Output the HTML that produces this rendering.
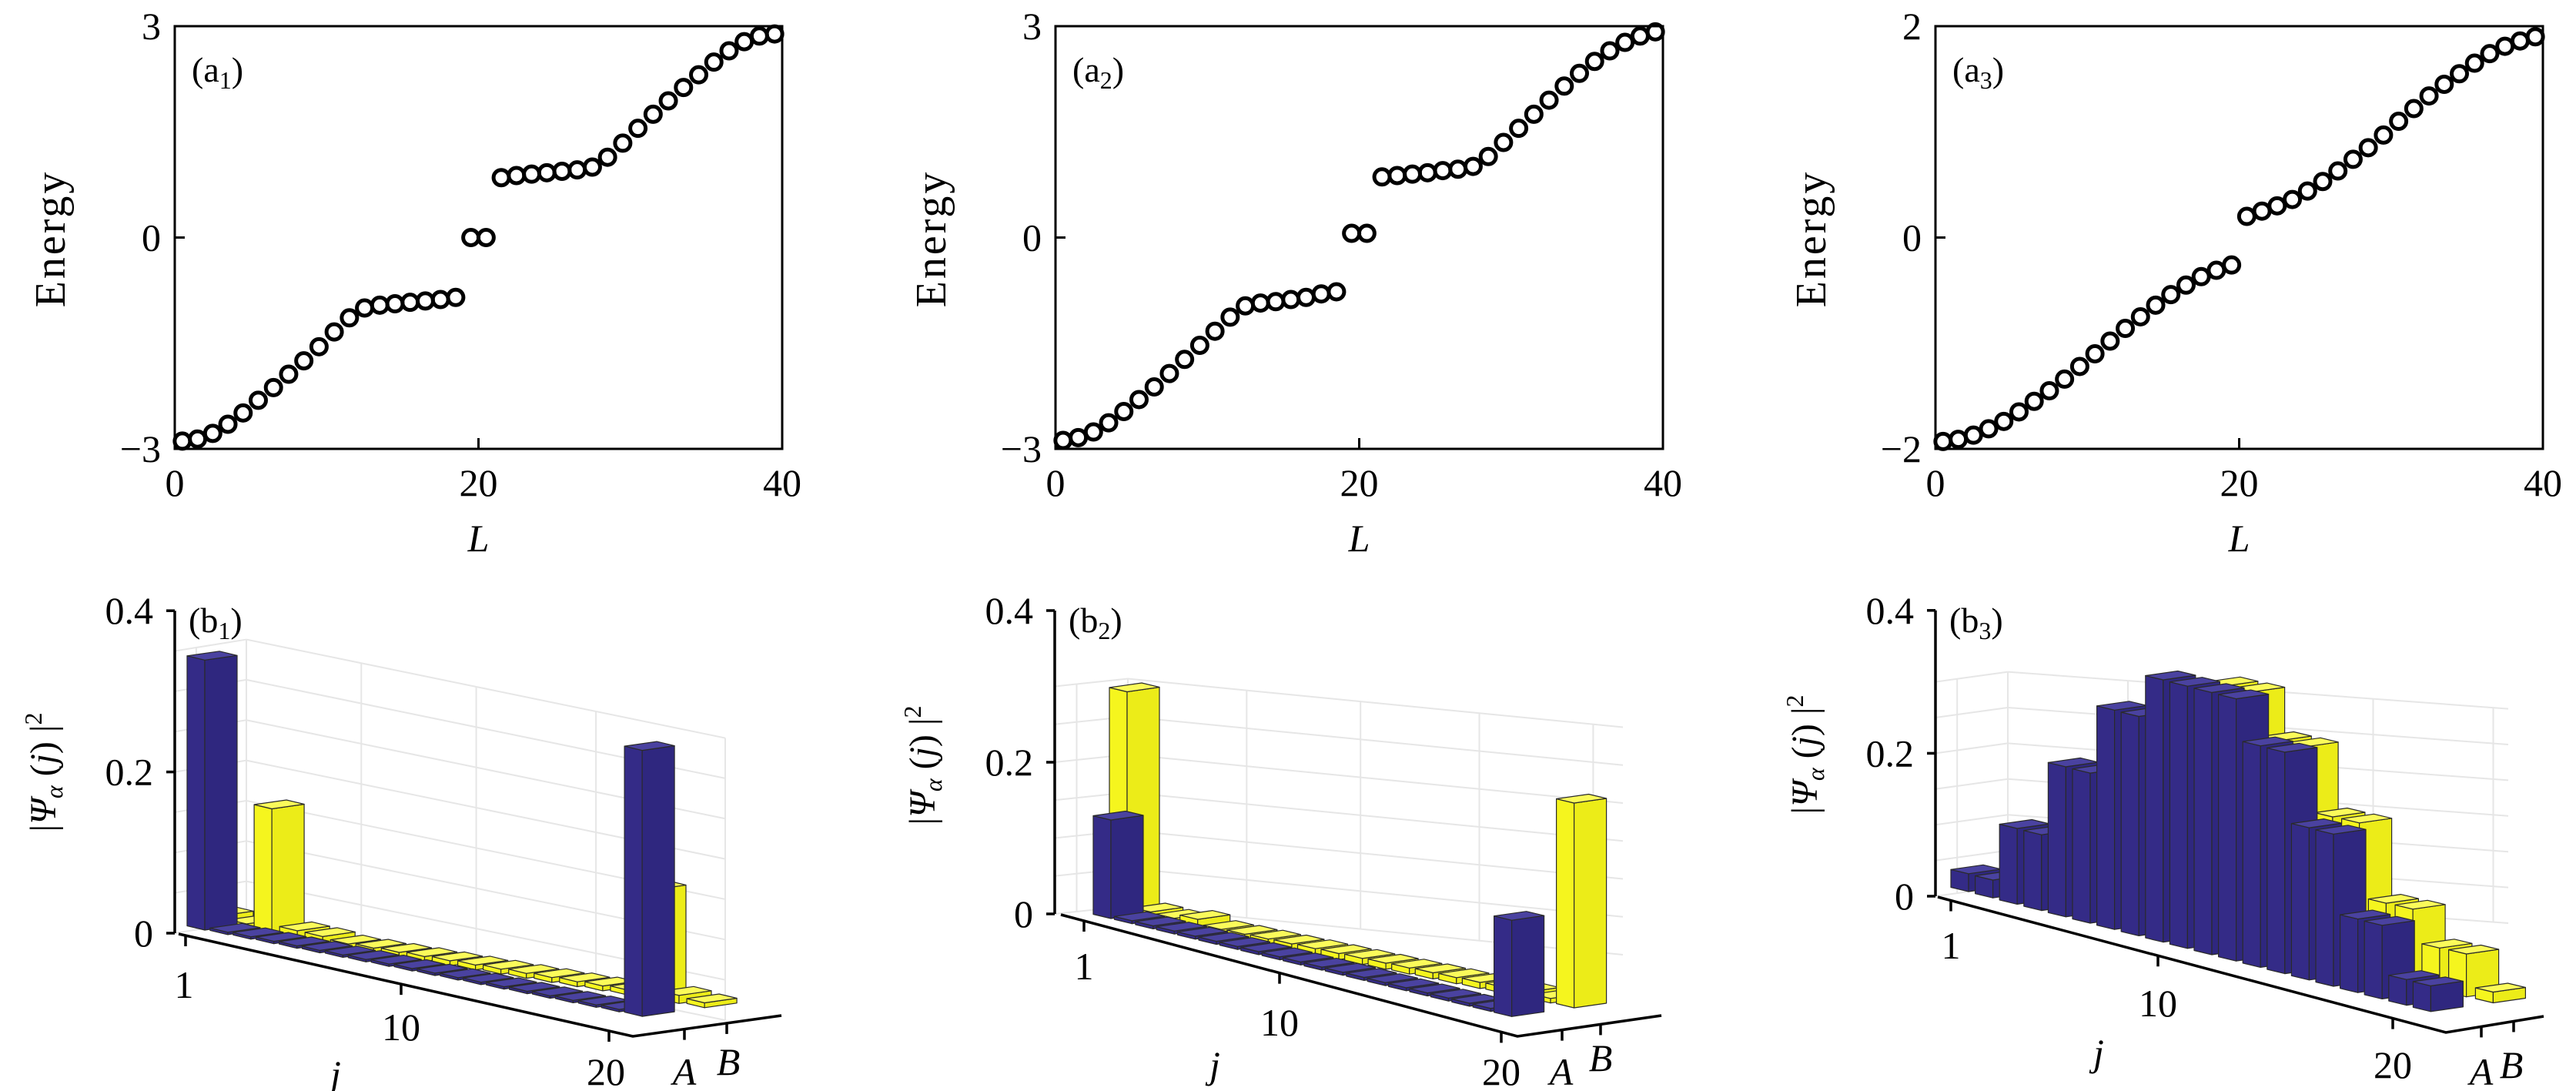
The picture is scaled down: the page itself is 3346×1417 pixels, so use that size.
<!DOCTYPE html>
<html><head><meta charset="utf-8"><style>
html,body{margin:0;padding:0;background:#fff}
svg{display:block}
text{font-family:"Liberation Serif",serif;fill:#000}
</style></head><body>
<svg id="fig" width="3346" height="1417" viewBox="0 0 3346 1417" xmlns="http://www.w3.org/2000/svg"></svg>
<script>
// ---- Data: energy spectra (L = index + 0.5) ----
const energyA1 = [-2.89,-2.86,-2.78,-2.65,-2.49,-2.31,-2.13,-1.94,-1.75,-1.55,-1.34,-1.14,-1.0,-0.96,-0.94,-0.92,-0.9,-0.88,-0.85,0,0,0.85,0.88,0.9,0.92,0.94,0.96,1.0,1.14,1.34,1.55,1.75,1.94,2.13,2.31,2.49,2.65,2.78,2.86,2.89];
const energyA2 = [-2.88,-2.84,-2.76,-2.63,-2.47,-2.3,-2.12,-1.93,-1.73,-1.53,-1.33,-1.13,-0.97,-0.93,-0.91,-0.88,-0.85,-0.8,-0.77,0.06,0.06,0.86,0.88,0.9,0.92,0.95,0.97,1.01,1.15,1.35,1.55,1.75,1.95,2.15,2.33,2.5,2.65,2.77,2.86,2.92];
const energyA3 = [-1.93,-1.91,-1.87,-1.81,-1.74,-1.65,-1.55,-1.45,-1.34,-1.22,-1.1,-0.98,-0.86,-0.75,-0.64,-0.54,-0.45,-0.37,-0.31,-0.26,0.2,0.25,0.3,0.36,0.44,0.53,0.63,0.74,0.85,0.97,1.1,1.22,1.34,1.45,1.55,1.65,1.74,1.81,1.86,1.9];
const xTicksTop = [0,20,40];
const yTicksA12 = [-3,0,3];
const yTicksA3 = [-2,0,2];
// ---- Data: |Psi|^2 on sublattices A (blue) and B (yellow), j = 1..20 ----
const jSites = [1,2,3,4,5,6,7,8,9,10,11,12,13,14,15,16,17,18,19,20];
const b1A = [0.335,0.003,0.003,0.003,0.003,0.003,0.003,0.003,0.003,0.003,0.003,0.003,0.003,0.003,0.003,0.003,0.003,0.003,0.003,0.33];
const b1B = [0.015,0.01,0.158,0.012,0.01,0.006,0.006,0.006,0.006,0.006,0.006,0.006,0.006,0.006,0.006,0.006,0.006,0.136,0.01,0.006];
const b2A = [0.13,0.004,0.004,0.004,0.004,0.004,0.004,0.004,0.004,0.004,0.004,0.004,0.004,0.004,0.004,0.004,0.004,0.004,0.004,0.127];
const b2B = [0.296,0.012,0.01,0.015,0.008,0.008,0.008,0.008,0.008,0.008,0.008,0.008,0.008,0.008,0.008,0.008,0.008,0.008,0.006,0.27];
const b3A = [0.025,0.025,0.106,0.106,0.21,0.21,0.307,0.307,0.367,0.367,0.367,0.367,0.31,0.31,0.213,0.213,0.103,0.103,0.036,0.036];
const b3B = [0.01,0.01,0.03,0.05,0.1,0.15,0.2,0.26,0.31,0.36,0.36,0.3,0.3,0.21,0.21,0.106,0.106,0.06,0.06,0.015];
const zTicks = [0,0.2,0.4];
const zTickLabels = ["0","0.2","0.4"];

const NS = "http://www.w3.org/2000/svg";
const svg = document.getElementById('fig');
function mk(tag, attrs, parent){
  const e = document.createElementNS(NS, tag);
  for (const k in attrs) e.setAttribute(k, attrs[k]);
  (parent||svg).appendChild(e);
  return e;
}
function txt(s, x, y, size, parent, anchor, italic){
  const t = mk('text', {x:x, y:y, 'font-size':size, 'text-anchor':anchor||'middle'}, parent);
  if (italic) t.setAttribute('font-style','italic');
  t.textContent = s;
  return t;
}

// ---------------- Top panels ----------------
function energyPanel(name, left, energies, yTicks, yMin, yMax, idx){
  const g = mk('g', {});
  
  
  const top = 34, bottom = 583, right = left + 789;
  const xs = v => left + (v - 0) / 40 * (right - left);
  const ys = v => bottom - (v - yMin) / (yMax - yMin) * (bottom - top);
  const frame = mk('rect', {x:left, y:top, width:right-left, height:bottom-top, fill:'none', stroke:'#000', 'stroke-width':3}, g);
  
  
  const ty = mk('line', {x1:left, x2:left+13, y1:ys(0), y2:ys(0), stroke:'#000', 'stroke-width':3}, g);
  
  
  const tx = mk('line', {x1:xs(20), x2:xs(20), y1:bottom, y2:bottom-14, stroke:'#000', 'stroke-width':3}, g);
  
  
  yTicks.forEach(v => {
    const lab = (v < 0 ? '\u2212' + Math.abs(v) : String(v));
    const t = txt(lab, left - 18, ys(v) + 17, 50, g, 'end');
    
    
  });
  xTicksTop.forEach(v => {
    const t = txt(String(v), xs(v), 644, 50, g, 'middle');
    
    
  });
  const xl = txt('L', xs(20), 716, 50, g, 'middle', true);
  
  
  const yl = txt('Energy', 0, 0, 56, g, 'middle');
  yl.setAttribute('letter-spacing', '3');
  yl.setAttribute('transform', 'translate(' + (left - 143) + ',310) rotate(-90)');
  
  
  const pl = mk('text', {x:left+22, y:106, 'font-size':46}, g);
  
  
  pl.innerHTML = '(a<tspan font-size="32" dy="9">' + idx + '</tspan><tspan dy="-9">)</tspan>';
  energies.forEach((e, i) => {
    const c = mk('circle', {cx:xs(i + 0.5), cy:ys(e), r:10, fill:'none', stroke:'#000', 'stroke-width':5}, g);
    
    
  });
}
energyPanel('panel-a1', 227, energyA1, yTicksA12, -3, 3, 1);
energyPanel('panel-a2', 1371, energyA2, yTicksA12, -3, 3, 2);
energyPanel('panel-a3', 2514, energyA3, yTicksA3, -2, 2, 3);

// ---------------- Bottom 3D bar panels ----------------
const VJ = [23, 5.5], VA = [42, -6];
function pts(arr){ return arr.map(p => p[0].toFixed(1) + ',' + p[1].toFixed(1)).join(' '); }
function drawBar(g, lx, ly, h, color, name){
  const P0=[lx,ly], P1=[lx+VJ[0],ly+VJ[1]], P2=[lx+VJ[0]+VA[0],ly+VJ[1]+VA[1]], P3=[lx+VA[0],ly+VA[1]];
  const up = p => [p[0], p[1]-h];
  const bg = mk('g', {stroke:'#2a2a2a', 'stroke-width':1.2, 'stroke-linejoin':'round'}, g);
  
  
  mk('polygon', {points:pts([P0,P1,up(P1),up(P0)]), fill:color[0]}, bg);
  mk('polygon', {points:pts([P1,P2,up(P2),up(P1)]), fill:color[1]}, bg);
  mk('polygon', {points:pts([up(P0),up(P1),up(P2),up(P3)]), fill:color[2]}, bg);
}
const BLUE = ['#342b87','#2f277f','#4a42a0'];
const YEL = ['#f5f51e','#ecec18','#fbfb5a'];

function barPanel(name, cfg, A, B, idx){
  const g = mk('g', {});
  
  
  const zpx = v => cfg.zeroY - v * cfg.scale;
  const grid = mk('g', {stroke:'#e6e6e6', 'stroke-width':2, fill:'none'}, g);
  
  
  const FL = [cfg.axisX, cfg.zeroY], BL = cfg.backL, BR = cfg.backR;
  for (let z = 0; z <= cfg.gridTop + 1e-6; z += 0.05) {
    const d = z * cfg.scale;
    mk('line', {x1:FL[0], y1:FL[1]-d, x2:BL[0], y2:BL[1]-d}, grid);
    mk('line', {x1:BL[0], y1:BL[1]-d, x2:BR[0], y2:BR[1]-d}, grid);
  }
  const H = cfg.gridTop * cfg.scale;
  cfg.vlines.forEach(f => {
    const x = BL[0] + f * (BR[0] - BL[0]), y = BL[1] + f * (BR[1] - BL[1]);
    mk('line', {x1:x, y1:y, x2:x, y2:y - H}, grid);
  });
  [0.3].forEach(f => {
    const x = FL[0] + f*(BL[0]-FL[0]), y = FL[1] + f*(BL[1]-FL[1]);
    mk('line', {x1:x, y1:y, x2:x, y2:y - H}, grid);
  });
  const left = j => cfg.x1 + (j - 1) * cfg.sp;
  const base = j => cfg.y1 + (j - 1) * cfg.dyj;
  jSites.forEach((j, i) => {
    const dx = 21 + 60 * (j - 1) / 19;
    drawBar(g, left(j) + dx, base(j) - 0.14 * dx, B[i] * cfg.scale, YEL, 'bar-b-' + j);
  });
  jSites.forEach((j, i) => {
    drawBar(g, left(j), base(j), A[i] * cfg.scale, BLUE, 'bar-a-' + j);
  });
  const ax = mk('g', {stroke:'#000', 'stroke-width':3.5, fill:'none'}, g);
  
  
  mk('line', {x1:cfg.axisX, y1:zpx(0), x2:cfg.axisX, y2:zpx(0.4)}, ax);
  zTicks.forEach((v, i) => {
    mk('line', {x1:cfg.axisX - 11, y1:zpx(v), x2:cfg.axisX, y2:zpx(v)}, ax);
    const t = txt(zTickLabels[i], cfg.axisX - 28, zpx(v) + 17, 50, g, 'end');
    
    
  });
  mk('polyline', {points:pts([cfg.jStart, cfg.jEnd, cfg.abEnd])}, ax);
  const jSlope = (cfg.jEnd[1] - cfg.jStart[1]) / (cfg.jEnd[0] - cfg.jStart[0]);
  cfg.jTicks.forEach(tk => {
    const y = cfg.jStart[1] + (tk[1] - cfg.jStart[0]) * jSlope;
    mk('line', {x1:tk[1], y1:y, x2:tk[1], y2:y + 14}, ax);
    const t = txt(String(tk[0]), tk[2], tk[3] + 4, 50, g, 'middle');
    
    
  });
  const abSlope = (cfg.abEnd[1] - cfg.jEnd[1]) / (cfg.abEnd[0] - cfg.jEnd[0]);
  cfg.abTicks.forEach(tk => {
    const y = cfg.jEnd[1] + (tk[1] - cfg.jEnd[0]) * abSlope;
    mk('line', {x1:tk[1], y1:y, x2:tk[1], y2:y + 14}, ax);
    const t = txt(tk[0], tk[2], tk[3] + 4, 50, g, 'middle', true);
    
    
  });
  const jl = txt('j', cfg.jLabel[0], cfg.jLabel[1] + 4, 50, g, 'middle', true);
  
  
  const yl = mk('text', {'font-size':48, 'text-anchor':'middle', transform:'translate(' + cfg.yLabel[0] + ',' + cfg.yLabel[1] + ') rotate(-90)'}, g);
  
  
  yl.innerHTML = '|<tspan font-style="italic">\u03A8</tspan><tspan font-size="32" dy="9" font-style="italic">\u03B1</tspan><tspan dy="-9"> (</tspan><tspan font-style="italic">j</tspan>) |<tspan font-size="32" dy="-18">2</tspan>';
  const pl = mk('text', {x:cfg.axisX + 18, y:zpx(0.4) + 28, 'font-size':46}, g);
  
  
  pl.innerHTML = '(b<tspan font-size="32" dy="9">' + idx + '</tspan><tspan dy="-9">)</tspan>';
}

barPanel('panel-b1', {
  axisX:227, zeroY:1212, scale:1047, x1:243, sp:29.9, y1:1202.5, dyj:5.9,
  backL:[320,1197], backR:[942,1325], gridTop:0.35, vlines:[0,0.24,0.48,0.73,1],
  jStart:[232,1213], jEnd:[822,1346], abEnd:[1015,1319],
  jTicks:[[1,241,239,1292],[10,521,521,1347],[20,791,787,1405]],
  abTicks:[['A',889,889,1405],['B',944,946,1392]],
  jLabel:[436,1408], yLabel:[72,1003]
}, b1A, b1B, 1);

barPanel('panel-b2', {
  axisX:1370, zeroY:1187, scale:985, x1:1420, sp:27.4, y1:1187.5, dyj:6.7,
  backL:[1465,1177], backR:[2108,1240], gridTop:0.3, vlines:[0,0.24,0.47,0.71,0.94],
  jStart:[1378,1188], jEnd:[1971,1346], abEnd:[2158,1319],
  jTicks:[[1,1408,1408,1268],[10,1662,1662,1341],[20,1950,1950,1405]],
  abTicks:[['A',2029,2028,1405],['B',2079,2079,1387]],
  jLabel:[1578,1396], yLabel:[1214,994]
}, b2A, b2B, 2);

barPanel('panel-b3', {
  axisX:2514, zeroY:1164, scale:928, x1:2534, sp:31.6, y1:1152.5, dyj:8.2,
  backL:[2608,1151], backR:[3258,1199], gridTop:0.3, vlines:[0,0.24,0.49,0.73,0.97],
  jStart:[2517,1165], jEnd:[3177,1341], abEnd:[3304,1320],
  jTicks:[[1,2534,2534,1241],[10,2803,2803,1316],[20,3108,3108,1396]],
  abTicks:[['A',3223,3223,1405],['B',3265,3262,1396]],
  jLabel:[2726,1380], yLabel:[2360,980]
}, b3A, b3B, 3);
</script>
</body></html>
